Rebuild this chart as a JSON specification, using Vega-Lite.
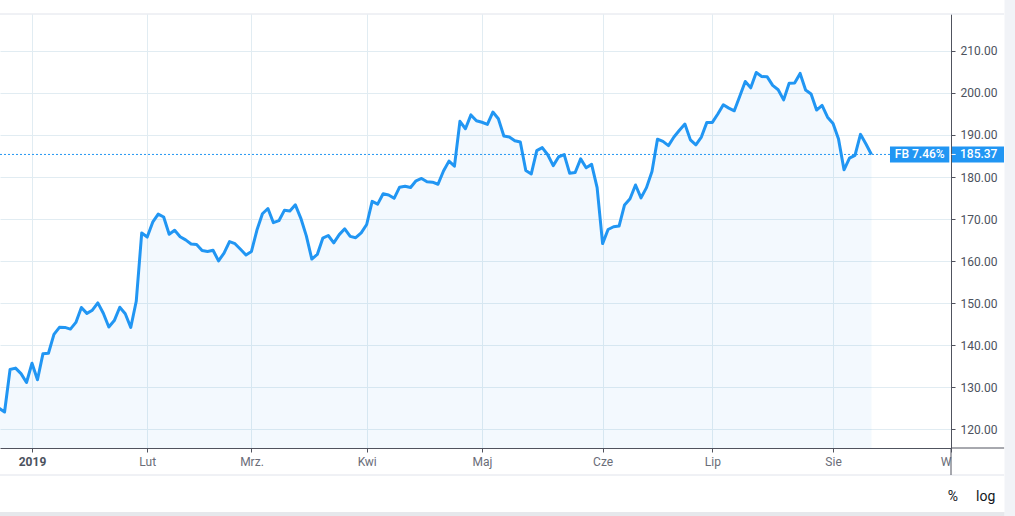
{
  "$schema": "https://vega.github.io/schema/vega-lite/v6.json",
  "autosize": "none",
  "width": 951,
  "height": 434,
  "padding": {"left": 0, "top": 14, "right": 64, "bottom": 68},
  "background": "white",
  "view": {"stroke": null},
  "config": {"font": "Roboto"},
  "datasets": {
    "fb": [
      {"d": "2018-12-21", "i": -6, "c": 124.95},
      {"d": "2018-12-24", "i": -5, "c": 124.06},
      {"d": "2018-12-26", "i": -4, "c": 134.18},
      {"d": "2018-12-27", "i": -3, "c": 134.52},
      {"d": "2018-12-28", "i": -2, "c": 133.20},
      {"d": "2018-12-31", "i": -1, "c": 131.09},
      {"d": "2019-01-02", "i": 0, "c": 135.68},
      {"d": "2019-01-03", "i": 1, "c": 131.74},
      {"d": "2019-01-04", "i": 2, "c": 137.95},
      {"d": "2019-01-07", "i": 3, "c": 138.05},
      {"d": "2019-01-08", "i": 4, "c": 142.53},
      {"d": "2019-01-09", "i": 5, "c": 144.23},
      {"d": "2019-01-10", "i": 6, "c": 144.20},
      {"d": "2019-01-11", "i": 7, "c": 143.80},
      {"d": "2019-01-14", "i": 8, "c": 145.39},
      {"d": "2019-01-15", "i": 9, "c": 148.95},
      {"d": "2019-01-16", "i": 10, "c": 147.54},
      {"d": "2019-01-17", "i": 11, "c": 148.30},
      {"d": "2019-01-18", "i": 12, "c": 150.04},
      {"d": "2019-01-22", "i": 13, "c": 147.57},
      {"d": "2019-01-23", "i": 14, "c": 144.30},
      {"d": "2019-01-24", "i": 15, "c": 145.83},
      {"d": "2019-01-25", "i": 16, "c": 149.01},
      {"d": "2019-01-28", "i": 17, "c": 147.47},
      {"d": "2019-01-29", "i": 18, "c": 144.19},
      {"d": "2019-01-30", "i": 19, "c": 150.42},
      {"d": "2019-01-31", "i": 20, "c": 166.69},
      {"d": "2019-02-01", "i": 21, "c": 165.71},
      {"d": "2019-02-04", "i": 22, "c": 169.25},
      {"d": "2019-02-05", "i": 23, "c": 171.16},
      {"d": "2019-02-06", "i": 24, "c": 170.49},
      {"d": "2019-02-07", "i": 25, "c": 166.38},
      {"d": "2019-02-08", "i": 26, "c": 167.33},
      {"d": "2019-02-11", "i": 27, "c": 165.79},
      {"d": "2019-02-12", "i": 28, "c": 165.04},
      {"d": "2019-02-13", "i": 29, "c": 164.07},
      {"d": "2019-02-14", "i": 30, "c": 163.95},
      {"d": "2019-02-15", "i": 31, "c": 162.50},
      {"d": "2019-02-19", "i": 32, "c": 162.29},
      {"d": "2019-02-20", "i": 33, "c": 162.56},
      {"d": "2019-02-21", "i": 34, "c": 160.04},
      {"d": "2019-02-22", "i": 35, "c": 161.89},
      {"d": "2019-02-25", "i": 36, "c": 164.62},
      {"d": "2019-02-26", "i": 37, "c": 164.13},
      {"d": "2019-02-27", "i": 38, "c": 162.81},
      {"d": "2019-02-28", "i": 39, "c": 161.45},
      {"d": "2019-03-01", "i": 40, "c": 162.28},
      {"d": "2019-03-04", "i": 41, "c": 167.37},
      {"d": "2019-03-05", "i": 42, "c": 171.26},
      {"d": "2019-03-06", "i": 43, "c": 172.51},
      {"d": "2019-03-07", "i": 44, "c": 169.13},
      {"d": "2019-03-08", "i": 45, "c": 169.60},
      {"d": "2019-03-11", "i": 46, "c": 172.07},
      {"d": "2019-03-12", "i": 47, "c": 171.92},
      {"d": "2019-03-13", "i": 48, "c": 173.37},
      {"d": "2019-03-14", "i": 49, "c": 170.17},
      {"d": "2019-03-15", "i": 50, "c": 165.98},
      {"d": "2019-03-18", "i": 51, "c": 160.47},
      {"d": "2019-03-19", "i": 52, "c": 161.57},
      {"d": "2019-03-20", "i": 53, "c": 165.44},
      {"d": "2019-03-21", "i": 54, "c": 166.08},
      {"d": "2019-03-22", "i": 55, "c": 164.34},
      {"d": "2019-03-25", "i": 56, "c": 166.29},
      {"d": "2019-03-26", "i": 57, "c": 167.68},
      {"d": "2019-03-27", "i": 58, "c": 165.87},
      {"d": "2019-03-28", "i": 59, "c": 165.55},
      {"d": "2019-03-29", "i": 60, "c": 166.69},
      {"d": "2019-04-01", "i": 61, "c": 168.70},
      {"d": "2019-04-02", "i": 62, "c": 174.20},
      {"d": "2019-04-03", "i": 63, "c": 173.54},
      {"d": "2019-04-04", "i": 64, "c": 176.02},
      {"d": "2019-04-05", "i": 65, "c": 175.72},
      {"d": "2019-04-08", "i": 66, "c": 174.93},
      {"d": "2019-04-09", "i": 67, "c": 177.58},
      {"d": "2019-04-10", "i": 68, "c": 177.82},
      {"d": "2019-04-11", "i": 69, "c": 177.51},
      {"d": "2019-04-12", "i": 70, "c": 179.10},
      {"d": "2019-04-15", "i": 71, "c": 179.65},
      {"d": "2019-04-16", "i": 72, "c": 178.87},
      {"d": "2019-04-17", "i": 73, "c": 178.78},
      {"d": "2019-04-18", "i": 74, "c": 178.28},
      {"d": "2019-04-22", "i": 75, "c": 181.44},
      {"d": "2019-04-23", "i": 76, "c": 183.78},
      {"d": "2019-04-24", "i": 77, "c": 182.58},
      {"d": "2019-04-25", "i": 78, "c": 193.26},
      {"d": "2019-04-26", "i": 79, "c": 191.49},
      {"d": "2019-04-29", "i": 80, "c": 194.78},
      {"d": "2019-04-30", "i": 81, "c": 193.40},
      {"d": "2019-05-01", "i": 82, "c": 193.03},
      {"d": "2019-05-02", "i": 83, "c": 192.53},
      {"d": "2019-05-03", "i": 84, "c": 195.47},
      {"d": "2019-05-06", "i": 85, "c": 193.88},
      {"d": "2019-05-07", "i": 86, "c": 189.77},
      {"d": "2019-05-08", "i": 87, "c": 189.54},
      {"d": "2019-05-09", "i": 88, "c": 188.65},
      {"d": "2019-05-10", "i": 89, "c": 188.34},
      {"d": "2019-05-13", "i": 90, "c": 181.54},
      {"d": "2019-05-14", "i": 91, "c": 180.73},
      {"d": "2019-05-15", "i": 92, "c": 186.27},
      {"d": "2019-05-16", "i": 93, "c": 186.99},
      {"d": "2019-05-17", "i": 94, "c": 185.30},
      {"d": "2019-05-20", "i": 95, "c": 182.72},
      {"d": "2019-05-21", "i": 96, "c": 184.82},
      {"d": "2019-05-22", "i": 97, "c": 185.32},
      {"d": "2019-05-23", "i": 98, "c": 180.87},
      {"d": "2019-05-24", "i": 99, "c": 181.06},
      {"d": "2019-05-28", "i": 100, "c": 184.31},
      {"d": "2019-05-29", "i": 101, "c": 182.19},
      {"d": "2019-05-30", "i": 102, "c": 183.01},
      {"d": "2019-05-31", "i": 103, "c": 177.47},
      {"d": "2019-06-03", "i": 104, "c": 164.15},
      {"d": "2019-06-04", "i": 105, "c": 167.50},
      {"d": "2019-06-05", "i": 106, "c": 168.17},
      {"d": "2019-06-06", "i": 107, "c": 168.33},
      {"d": "2019-06-07", "i": 108, "c": 173.35},
      {"d": "2019-06-10", "i": 109, "c": 174.82},
      {"d": "2019-06-11", "i": 110, "c": 178.10},
      {"d": "2019-06-12", "i": 111, "c": 175.04},
      {"d": "2019-06-13", "i": 112, "c": 177.47},
      {"d": "2019-06-14", "i": 113, "c": 181.33},
      {"d": "2019-06-17", "i": 114, "c": 189.01},
      {"d": "2019-06-18", "i": 115, "c": 188.47},
      {"d": "2019-06-19", "i": 116, "c": 187.48},
      {"d": "2019-06-20", "i": 117, "c": 189.53},
      {"d": "2019-06-21", "i": 118, "c": 191.14},
      {"d": "2019-06-24", "i": 119, "c": 192.60},
      {"d": "2019-06-25", "i": 120, "c": 188.84},
      {"d": "2019-06-26", "i": 121, "c": 187.66},
      {"d": "2019-06-27", "i": 122, "c": 189.50},
      {"d": "2019-06-28", "i": 123, "c": 193.00},
      {"d": "2019-07-01", "i": 124, "c": 193.00},
      {"d": "2019-07-02", "i": 125, "c": 195.00},
      {"d": "2019-07-03", "i": 126, "c": 197.20},
      {"d": "2019-07-05", "i": 127, "c": 196.40},
      {"d": "2019-07-08", "i": 128, "c": 195.76},
      {"d": "2019-07-09", "i": 129, "c": 199.21},
      {"d": "2019-07-10", "i": 130, "c": 202.73},
      {"d": "2019-07-11", "i": 131, "c": 201.23},
      {"d": "2019-07-12", "i": 132, "c": 204.87},
      {"d": "2019-07-15", "i": 133, "c": 203.91},
      {"d": "2019-07-16", "i": 134, "c": 203.84},
      {"d": "2019-07-17", "i": 135, "c": 201.80},
      {"d": "2019-07-18", "i": 136, "c": 200.78},
      {"d": "2019-07-19", "i": 137, "c": 198.36},
      {"d": "2019-07-22", "i": 138, "c": 202.32},
      {"d": "2019-07-23", "i": 139, "c": 202.36},
      {"d": "2019-07-24", "i": 140, "c": 204.66},
      {"d": "2019-07-25", "i": 141, "c": 200.71},
      {"d": "2019-07-26", "i": 142, "c": 199.75},
      {"d": "2019-07-29", "i": 143, "c": 195.94},
      {"d": "2019-07-30", "i": 144, "c": 197.04},
      {"d": "2019-07-31", "i": 145, "c": 194.23},
      {"d": "2019-08-01", "i": 146, "c": 192.73},
      {"d": "2019-08-02", "i": 147, "c": 189.02},
      {"d": "2019-08-05", "i": 148, "c": 181.71},
      {"d": "2019-08-06", "i": 149, "c": 184.51},
      {"d": "2019-08-07", "i": 150, "c": 185.15},
      {"d": "2019-08-08", "i": 151, "c": 190.16},
      {"d": "2019-08-09", "i": 152, "c": 187.85},
      {"d": "2019-08-12", "i": 153, "c": 185.37}
    ],
    "one": [{}]
  },
  "layer": [
    {
      "data": {"name": "fb"},
      "mark": {"type": "area", "color": "#2196f3", "fillOpacity": 0.055, "clip": true},
      "encoding": {
        "x": {
          "field": "i",
          "type": "quantitative",
          "scale": {"domain": [-5.832, 167.5], "nice": false, "zero": false},
          "axis": {
            "orient": "bottom",
            "title": null,
            "values": [0, 21, 40, 61, 82, 104, 124, 146, 167.5],
            "labelExpr": "datum.value==0?'2019':datum.value==21?'Lut':datum.value==40?'Mrz.':datum.value==61?'Kwi':datum.value==82?'Maj':datum.value==104?'Cze':datum.value==124?'Lip':datum.value==146?'Sie':'W'",
            "labelAlign": {"condition": {"test": "datum.value > 160", "value": "right"}, "value": "center"},
            "labelFontWeight": {"condition": {"test": "datum.value == 0", "value": "bold"}, "value": "normal"},
            "labelColor": {"condition": {"test": "datum.value == 0", "value": "#4c525e"}, "value": "#6a6d78"},
            "labelFontSize": 12,
            "labelFont": "Roboto",
            "labelPadding": 4,
            "labelOverlap": false,
            "labelFlush": false,
            "labelBound": false,
            "tickSize": 4,
            "tickColor": "#50535e",
            "domainColor": "#50535e",
            "gridColor": "#e1ecf2",
            "grid": true
          }
        },
        "y": {
          "field": "c",
          "type": "quantitative",
          "scale": {"domain": [115.5, 218.8], "nice": false, "zero": false},
          "axis": {
            "orient": "right",
            "title": null,
            "values": [120, 130, 140, 150, 160, 170, 180, 190, 200, 210],
            "format": ".2f",
            "labelFontSize": 12,
            "labelFont": "Roboto",
            "labelColor": "#4c525e",
            "labelPadding": 5,
            "tickSize": 4,
            "tickColor": "#50535e",
            "domainColor": "#50535e",
            "gridColor": "#e1ecf2",
            "grid": true
          }
        },
        "y2": {"datum": 115.5}
      }
    },
    {
      "data": {"name": "fb"},
      "mark": {"type": "line", "color": "#2196f3", "strokeWidth": 3, "strokeJoin": "round", "clip": true},
      "encoding": {
        "x": {"field": "i", "type": "quantitative"},
        "y": {"field": "c", "type": "quantitative"}
      }
    },
    {
      "data": {"name": "one"},
      "mark": {"type": "rule", "color": "#e0e3eb", "strokeWidth": 1},
      "encoding": {"x": {"datum": -5.832}, "x2": {"datum": 177.2}, "y": {"datum": 218.8}}
    },
    {
      "data": {"name": "one"},
      "mark": {"type": "rule", "color": "#e0e3eb", "strokeWidth": 1},
      "encoding": {"x": {"datum": -5.832}, "x2": {"datum": 177.2}, "y": {"datum": 109.07}}
    },
    {
      "data": {"name": "one"},
      "mark": {"type": "rule", "color": "#50535e", "strokeWidth": 1},
      "encoding": {"x": {"datum": 167.5}, "x2": {"datum": 177.2}, "y": {"datum": 115.5}}
    },
    {
      "data": {"name": "one"},
      "mark": {"type": "rule", "color": "#50535e", "strokeWidth": 1},
      "encoding": {"x": {"datum": 167.5}, "y": {"datum": 115.5}, "y2": {"datum": 109.07}}
    },
    {
      "data": {"name": "one"},
      "mark": {"type": "rect", "color": "#f1f3f7"},
      "encoding": {"x": {"datum": 177.25}, "x2": {"datum": 190}, "y": {"datum": 225}, "y2": {"datum": 95}}
    },
    {
      "data": {"name": "one"},
      "mark": {"type": "rect", "color": "#e6e8ec"},
      "encoding": {"x": {"datum": -7}, "x2": {"datum": 177.25}, "y": {"datum": 100.25}, "y2": {"datum": 95}}
    },
    {
      "data": {"name": "one"},
      "mark": {"type": "rule", "color": "#2196f3", "strokeWidth": 1, "strokeDash": [2, 2]},
      "encoding": {"x": {"datum": -5.832}, "x2": {"datum": 156.38}, "y": {"datum": 185.37}}
    },
    {
      "data": {"name": "one"},
      "mark": {"type": "rect", "color": "#2196f3"},
      "encoding": {"x": {"datum": 156.38}, "x2": {"datum": 167.19}, "y": {"datum": 187.27}, "y2": {"datum": 183.47}}
    },
    {
      "data": {"name": "one"},
      "mark": {"type": "rect", "color": "#2196f3"},
      "encoding": {"x": {"datum": 167.68}, "x2": {"datum": 177.16}, "y": {"datum": 187.27}, "y2": {"datum": 183.47}}
    },
    {
      "data": {"name": "one"},
      "mark": {"type": "rule", "color": "white", "strokeWidth": 1},
      "encoding": {"x": {"datum": 167.6}, "x2": {"datum": 168.35}, "y": {"datum": 185.37}}
    },
    {
      "data": {"name": "one"},
      "mark": {"type": "text", "text": "FB 7.46%", "color": "white", "fontSize": 12, "font": "Roboto", "fontWeight": 500, "align": "center", "baseline": "middle"},
      "encoding": {"x": {"datum": 161.8}, "y": {"datum": 185.37}}
    },
    {
      "data": {"name": "one"},
      "mark": {"type": "text", "text": "185.37", "color": "white", "fontSize": 12, "font": "Roboto", "fontWeight": 500, "align": "left", "baseline": "middle"},
      "encoding": {"x": {"datum": 169.14}, "y": {"datum": 185.37}}
    },
    {
      "data": {"name": "one"},
      "mark": {"type": "text", "text": "%", "color": "#131722", "fontSize": 14, "font": "Roboto", "align": "center", "baseline": "alphabetic"},
      "encoding": {"x": {"datum": 167.86}, "y": {"datum": 102.9}}
    },
    {
      "data": {"name": "one"},
      "mark": {"type": "text", "text": "log", "color": "#131722", "fontSize": 14, "font": "Roboto", "align": "left", "baseline": "alphabetic"},
      "encoding": {"x": {"datum": 172.06}, "y": {"datum": 102.9}}
    }
  ]
}
